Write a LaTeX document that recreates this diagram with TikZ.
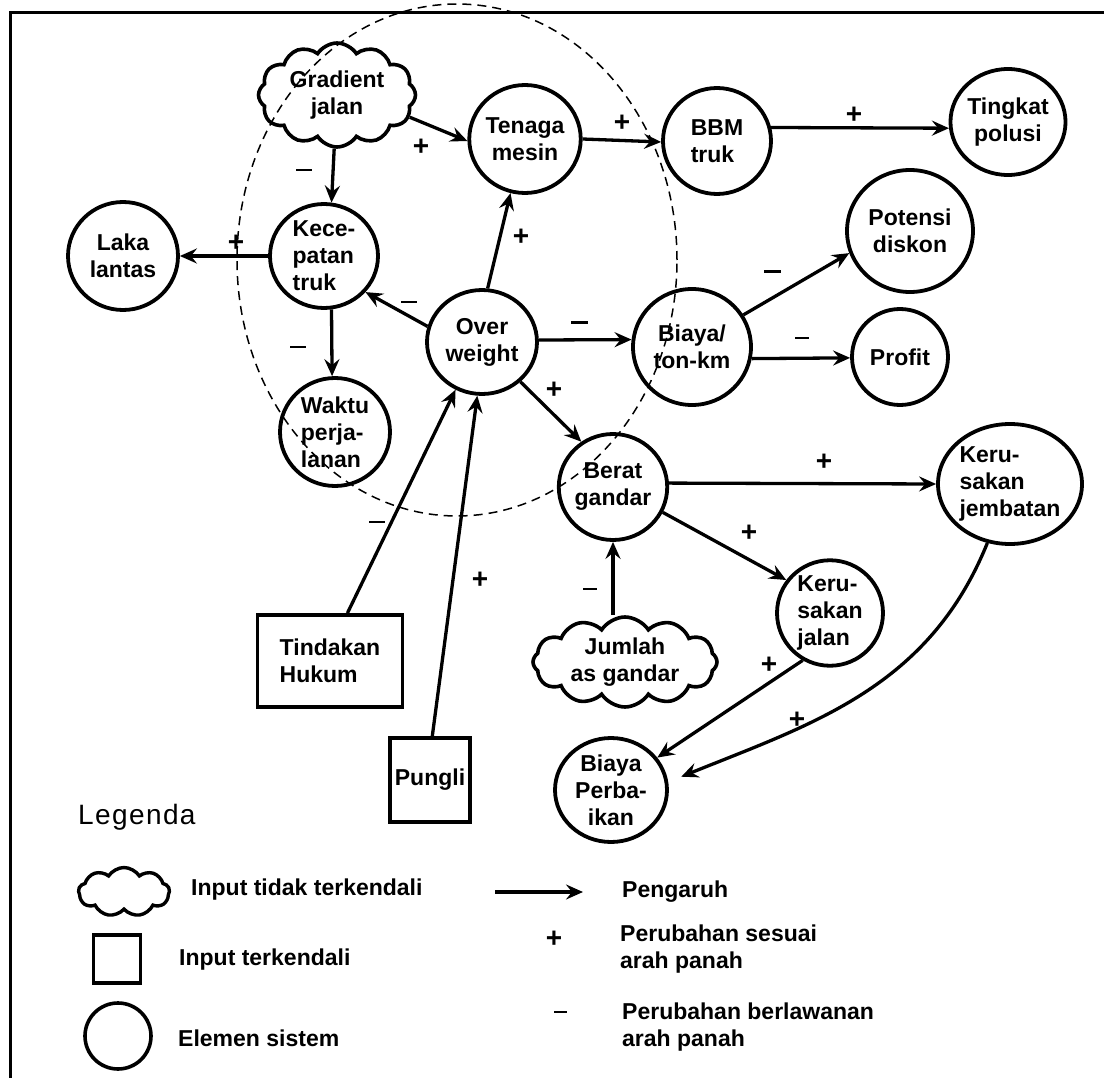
\documentclass[tikz,border=0pt]{standalone}
\usepackage{fontspec}
\setmainfont{Liberation Sans}
\usetikzlibrary{shapes.geometric,shapes.symbols,arrows.meta,calc}
\newcommand{\cldfont}{\fontsize{23}{27}\selectfont\bfseries}
\begin{document}
\begin{tikzpicture}[x=1pt,y=1pt,
  elem/.style={ellipse, draw, line width=3.8pt, inner sep=0pt, font=\cldfont, align=center},
  eleml/.style={elem, align=left},
  cloudnode/.style={cloud, draw, line width=3.6pt, cloud puffs=12, cloud puff arc=115, cloud ignores aspect, inner sep=0pt, font=\cldfont, align=center},
  boxnode/.style={rectangle, draw, line width=3.8pt, inner sep=0pt, font=\cldfont, align=left},
  arr/.style={line width=3.3pt, -{Stealth[length=17pt,width=15pt,inset=6pt]}},
  boundary/.style={line width=1.5pt, dash pattern=on 9pt off 6pt},
  plus/.style={font=\fontsize{28}{28}\selectfont\bfseries, inner sep=0pt},
  minusbar/.style={fill, inner sep=0pt, minimum width=17pt, minimum height=3pt},
  thinbar/.style={fill, inner sep=0pt, minimum width=16pt, minimum height=2pt},
  legtext/.style={anchor=west, font=\cldfont, align=left, inner sep=0pt}
]
\useasboundingbox (0,0) rectangle (1104,-1078);
\draw[line width=3pt] (10,-1078) -- (10,-13) -- (1104,-13);

% boundary of the system
\draw[boundary] (457,-260) ellipse [x radius=220, y radius=256];

% nodes
\node[cloudnode, minimum width=157pt, minimum height=104pt] (grad) at (337,-95) {Gradient\\jalan};
\node[elem, minimum width=104pt, minimum height=108pt] (ten) at (525,-139) {Tenaga\\mesin};
\node[eleml, minimum width=108pt, minimum height=106pt] (bbm) at (717,-141) {BBM\\truk};
\node[elem, minimum width=104pt, minimum height=106pt] (tin) at (1008,-122) {Tingkat\\polusi};
\node[elem, minimum width=110pt, minimum height=108pt] (laka) at (123,-256) {Laka\\lantas};
\node[eleml, minimum width=108pt, minimum height=104pt] (kec) at (324,-256) {Kece-\\patan\\truk};
\node[elem, minimum width=126pt, minimum height=122pt] (pot) at (910,-231) {Potensi\\diskon};
\node[elem, minimum width=110pt, minimum height=104pt] (ow) at (482,-342) {Over\\weight};
\node[elem, minimum width=118pt, minimum height=116pt] (biaya) at (692,-347) {Biaya/\\ton-km};
\node[elem, minimum width=96pt, minimum height=96pt] (prof) at (900,-357) {Profit};
\node[eleml, minimum width=110pt, minimum height=108pt] (waktu) at (335,-432) {Waktu\\perja-\\lanan};
\node[elem, minimum width=106pt, minimum height=106pt] (berat) at (613,-487) {Berat\\gandar};
\node[eleml, minimum width=144pt, minimum height=120pt] (jemb) at (1010,-484) {Keru-\\sakan\\jembatan};
\node[eleml, minimum width=106pt, minimum height=104pt] (jalan) at (830,-613) {Keru-\\sakan\\jalan};
\node[cloudnode, minimum width=184pt, minimum height=90pt] (jumlah) at (625,-662) {Jumlah\\as gandar};
\node[boxnode, minimum width=145pt, minimum height=92pt] (tind) at (330,-661) {Tindakan\\Hukum};
\node[boxnode, minimum width=80pt, minimum height=84pt] (pung) at (430,-780) {Pungli};
\node[elem, minimum width=112pt, minimum height=104pt] (bp) at (611,-790) {Biaya\\Perba-\\ikan};

% connectors
\draw[arr] (grad.-17) -- (ten.182);
\draw[arr] (ten.0) -- (bbm.181);
\draw[arr] (bbm.14) -- (tin.186);
\draw[arr] (grad.-93) -- (kec.82);
\draw[arr] (kec.180) -- (laka.0);
\draw[arr] (ow.84) -- (ten.255);
\draw[arr] (ow.164) -- (kec.-41);
\draw[arr] (kec.-82) -- (waktu.93);
\draw[arr] (ow.2) -- (biaya.173);
\draw[arr] (biaya.32) -- (pot.200);
\draw[arr] (biaya.-11) -- (prof.181);
\draw[arr] (ow.-46) -- (berat.125);
\draw[arr] (berat.4) -- (jemb.180);
\draw[arr] (berat.-27) -- (jalan.143);
\draw[arr] (berat.south |- jumlah.north) -- (berat.south);
\draw[arr] (jalan.-120) -- (bp.35);
\draw[arr, shorten >=14pt] (jemb.-111) to[out=-112, in=22] (bp.8);
\draw[arr] (tind.70) -- (ow.-119);
\draw[arr] (pung.87) -- (ow.-95);

% polarity signs
\node[plus] (s1) at (421,-147) {+};
\node[plus] (s2) at (622,-123) {+};
\node[plus] (s3) at (854,-115) {+};
\node[thinbar] (s4) at (304,-170) {};
\node[plus] (s5) at (236,-243) {+};
\node[plus] (s6) at (521,-237) {+};
\node[thinbar] (s7) at (409,-302) {};
\node[thinbar] (s8) at (298,-347) {};
\node[minusbar] (s9) at (579,-323) {};
\node[minusbar] (s10) at (772,-272) {};
\node[thinbar, minimum width=14pt] (s11) at (802,-338) {};
\node[plus] (s12) at (554,-390) {+};
\node[thinbar] (s13) at (377,-522) {};
\node[plus] (s14) at (480,-580) {+};
\node[plus] (s15) at (824,-462) {+};
\node[plus] (s16) at (749,-533) {+};
\node[thinbar, minimum width=14pt] (s17) at (590,-589) {};
\node[plus] (s18) at (769,-665) {+};
\node[plus] (s19) at (797,-720) {+};

% legend
\node[anchor=west, inner sep=0pt, font=\fontsize{28}{28}\selectfont\addfontfeatures{LetterSpace=5}] (leg) at (78,-817) {Legenda};
\node[cloud, draw, line width=3.4pt, cloud puffs=9, cloud puff arc=115, cloud ignores aspect, inner sep=0pt, minimum width=91pt, minimum height=49pt] (lcloud) at (124,-892) {};
\node[legtext] (lt1) at (191,-890) {Input tidak terkendali};
\node[rectangle, draw, line width=3.6pt, minimum width=47pt, minimum height=48pt] (lbox) at (117,-959) {};
\node[legtext] (lt2) at (179,-960) {Input terkendali};
\node[circle, draw, line width=3.6pt, minimum size=66pt, inner sep=0pt] (lcirc) at (118,-1036) {};
\node[legtext] (lt3) at (178,-1038) {Elemen sistem};
\coordinate (la1) at (495,-892);
\coordinate (la2) at (583,-892);
\draw[arr] (la1) -- (la2);
\node[legtext] (lt4) at (622,-892) {Pengaruh};
\node[plus] (lp) at (554,-939) {+};
\node[legtext] (lt5) at (620,-949) {Perubahan sesuai\\arah panah};
\node[thinbar, minimum width=13pt, minimum height=1.4pt] (lm) at (560,-1012) {};
\node[legtext] (lt6) at (622,-1027) {Perubahan berlawanan\\arah panah};
\end{tikzpicture}
\end{document}
